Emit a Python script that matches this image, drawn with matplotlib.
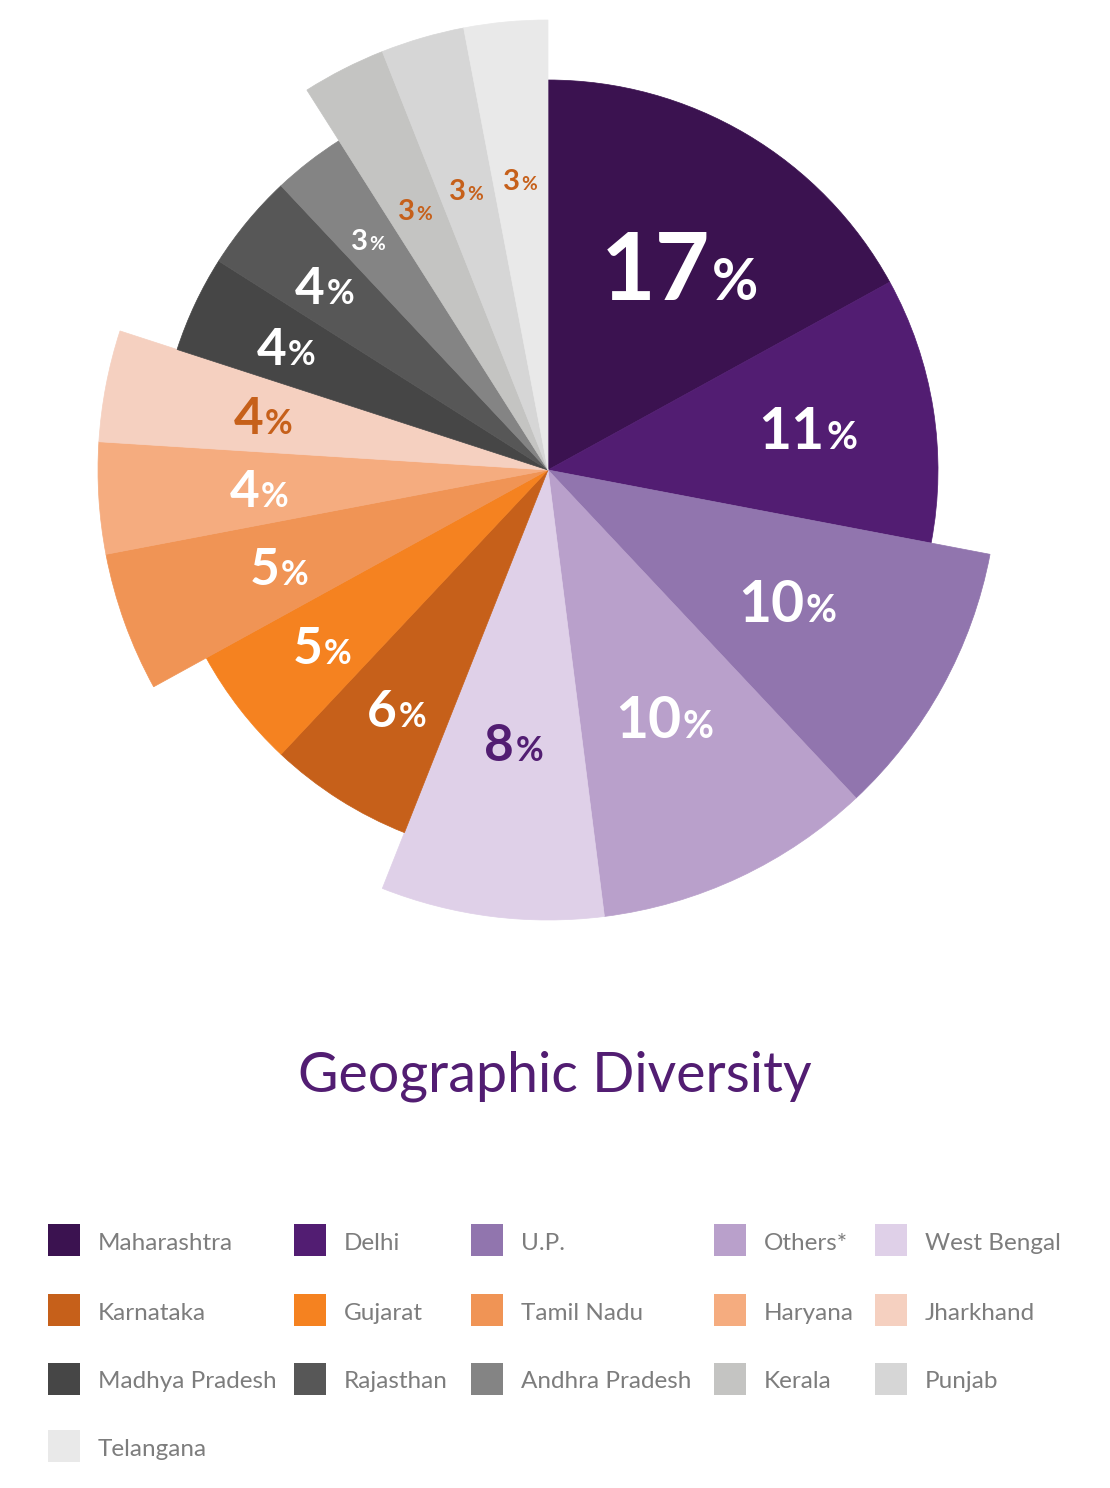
import matplotlib
matplotlib.use("Agg")
import matplotlib.pyplot as plt
from matplotlib.patches import Wedge, Rectangle
from matplotlib.offsetbox import TextArea, HPacker, AnnotationBbox
import numpy as np

plt.rcParams['font.family'] = ['Lato', 'DejaVu Sans']

# data
states = ["Maharashtra", "Delhi", "U.P.", "Others*", "West Bengal",
          "Karnataka", "Gujarat", "Tamil Nadu", "Haryana", "Jharkhand",
          "Madhya Pradesh", "Rajasthan", "Andhra Pradesh", "Kerala", "Punjab",
          "Telangana"]
shares = [17, 11, 10, 10, 8, 6, 5, 5, 4, 4, 4, 4, 3, 3, 3, 3]
# slices pulled out to the long radius
long_slice = [False, False, True, True, True, False, False, True, True, True,
              False, False, False, True, True, True]

colors = ["#3b1250", "#521d72", "#9175ae", "#b9a0cb", "#dfd0e8",
          "#c6601a", "#f58220", "#f09455", "#f5ac7f", "#f5d0c0",
          "#464646", "#575757", "#848484", "#c4c4c2", "#d6d6d6", "#e9e9e9"]
label_colors = ["white"] * 16
label_colors[4] = "#521d72"
for i in (9, 13, 14, 15):
    label_colors[i] = "#c6601a"

W, H = 1110, 1488
fig = plt.figure(figsize=(W / 100, H / 100), dpi=100)
ax = fig.add_axes([0, 0, 1, 1])
ax.set_xlim(0, W)
ax.set_ylim(0, H)
ax.axis("off")

cx, cy = 548, H - 470
r_short, r_long = 390, 450


def num_size(v):
    if v >= 15:
        return 68
    if v >= 10:
        return 41
    if v >= 4:
        return 37
    return 21


cum = np.concatenate([[0], np.cumsum(shares)])
total = cum[-1]
for i, v in enumerate(shares):
    t2 = 90 - cum[i] / total * 360
    t1 = 90 - cum[i + 1] / total * 360
    r = r_long if long_slice[i] else r_short
    ax.add_patch(Wedge((cx, cy), r, t1, t2, facecolor=colors[i],
                       edgecolor=colors[i], linewidth=0.5))

    mid = np.deg2rad((t1 + t2) / 2 - (2.5 if v >= 15 else 0))
    rl = 305 - 3.8 * v + (6 if v == 10 else 0)
    lx = cx + rl * np.cos(mid)
    ly = cy + rl * np.sin(mid) - 4
    fs = num_size(v)
    box = HPacker(children=[
        TextArea(str(v), textprops=dict(fontsize=fs, fontweight="bold",
                                        color=label_colors[i])),
        TextArea("%", textprops=dict(fontsize=fs * (0.6 if v >= 15 else 0.66),
                                     fontweight="bold",
                                     color=label_colors[i]))],
        align="baseline", pad=0, sep=1)
    ax.add_artist(AnnotationBbox(box, (lx, ly), frameon=False,
                                 box_alignment=(0.5, 0.5), pad=0))

ax.text(555, H - 1092, "Geographic Diversity", fontsize=40, color="#521d72",
        ha="center", va="baseline")

# legend grid
col_x = [48, 294, 471, 714, 875]
row_y = [1240, 1310, 1379, 1446]
for i, name in enumerate(states):
    c = i % 5
    rw = i // 5
    x = col_x[c]
    y = H - row_y[rw]
    ax.add_patch(Rectangle((x, y - 16), 32, 32, facecolor=colors[i],
                           edgecolor="none"))
    ax.text(x + 50, y - 3, name, fontsize=17.5, color="#7d7d7d",
            ha="left", va="center")

fig.savefig("out.png", dpi=100, facecolor="white")
